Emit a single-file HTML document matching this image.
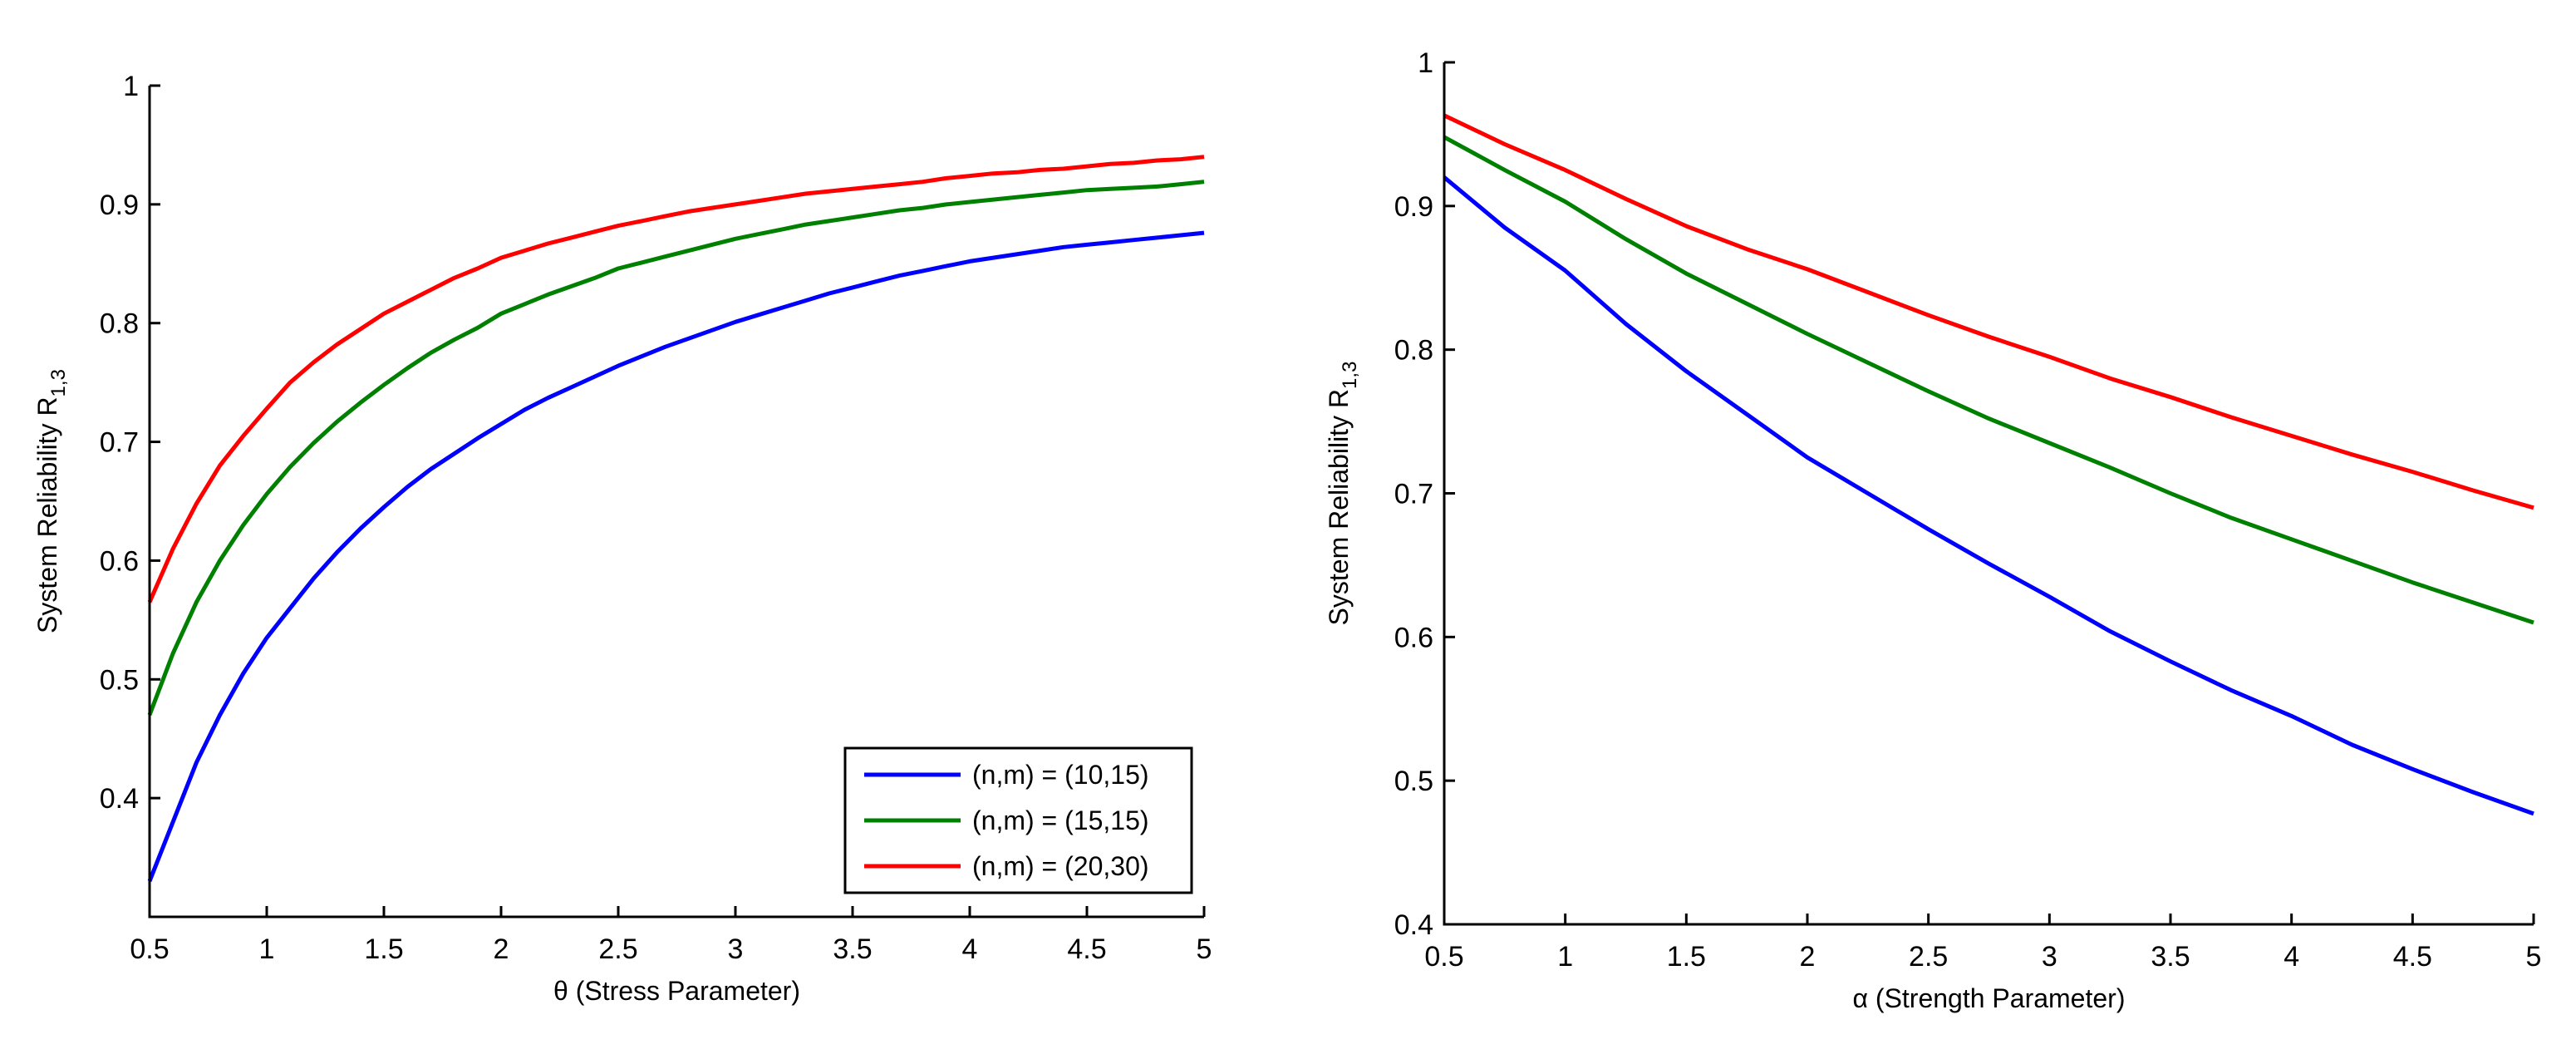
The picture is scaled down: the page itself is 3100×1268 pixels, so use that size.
<!DOCTYPE html>
<html><head><meta charset="utf-8"><style>
html,body{margin:0;padding:0;background:#fff;}
svg{display:block;font-family:"Liberation Sans",sans-serif;}
</style></head><body>
<svg id="fig" width="3100" height="1268" viewBox="0 0 3100 1268"></svg>
<script>
const leftX = [];
for (let i = 0; i <= 45; i++) leftX.push(0.5 + i * 0.1);
const leftBlue = [0.33,0.38,0.43,0.47,0.505,0.535,0.56,0.585,0.607,0.627,0.645,0.662,0.677,0.69,0.703,0.715,0.727,0.737,0.746,0.755,0.764,0.772,0.780,0.787,0.794,0.801,0.807,0.813,0.819,0.825,0.830,0.835,0.840,0.844,0.848,0.852,0.855,0.858,0.861,0.864,0.866,0.868,0.870,0.872,0.874,0.876];
const leftGreen = [0.47,0.522,0.565,0.6,0.63,0.656,0.679,0.699,0.717,0.733,0.748,0.762,0.775,0.786,0.796,0.808,0.816,0.824,0.831,0.838,0.846,0.851,0.856,0.861,0.866,0.871,0.875,0.879,0.883,0.886,0.889,0.892,0.895,0.897,0.9,0.902,0.904,0.906,0.908,0.910,0.912,0.913,0.914,0.915,0.917,0.919];
const leftRed = [0.565,0.61,0.648,0.68,0.705,0.728,0.75,0.767,0.782,0.795,0.808,0.818,0.828,0.838,0.846,0.855,0.861,0.867,0.872,0.877,0.882,0.886,0.890,0.894,0.897,0.900,0.903,0.906,0.909,0.911,0.913,0.915,0.917,0.919,0.922,0.924,0.926,0.927,0.929,0.930,0.932,0.934,0.935,0.937,0.938,0.940];
const rightX = [0.5,0.75,1,1.25,1.5,1.75,2,2.25,2.5,2.75,3,3.25,3.5,3.75,4,4.25,4.5,4.75,5];
const rightRed = [0.963,0.943,0.925,0.905,0.886,0.870,0.856,0.840,0.824,0.809,0.795,0.780,0.767,0.753,0.740,0.727,0.715,0.702,0.690];
const rightGreen = [0.948,0.925,0.903,0.877,0.853,0.832,0.811,0.791,0.771,0.752,0.735,0.718,0.700,0.683,0.668,0.653,0.638,0.624,0.610];
const rightBlue = [0.92,0.885,0.855,0.818,0.785,0.755,0.725,0.700,0.675,0.651,0.628,0.604,0.583,0.563,0.545,0.525,0.508,0.492,0.477];
const xTicks = [0.5,1,1.5,2,2.5,3,3.5,4,4.5,5];
const xTickLabels = ["0.5","1","1.5","2","2.5","3","3.5","4","4.5","5"];
const leftYTicks = [0.4,0.5,0.6,0.7,0.8,0.9,1];
const leftYTickLabels = ["0.4","0.5","0.6","0.7","0.8","0.9","1"];
const rightYTicks = [0.4,0.5,0.6,0.7,0.8,0.9,1];
const rightYTickLabels = ["0.4","0.5","0.6","0.7","0.8","0.9","1"];
const legendLabels = ["(n,m) = (10,15)","(n,m) = (15,15)","(n,m) = (20,30)"];
const colors = {blue:"#0000ff",green:"#008000",red:"#ff0000"};

const svg = document.getElementById('fig');
const NS = "http://www.w3.org/2000/svg";
function mk(tag, attrs, parent){const e=document.createElementNS(NS,tag);for(const k in attrs)e.setAttribute(k,attrs[k]);(parent||svg).appendChild(e);return e;}

function panel(cfg){
  const g = mk('g',{});
  
  
  const sx = v => cfg.x0 + (v - cfg.xmin)/(cfg.xmax-cfg.xmin)*(cfg.x1-cfg.x0);
  const sy = v => cfg.yb + (v - cfg.ymin)/(cfg.ymax-cfg.ymin)*(cfg.yt-cfg.yb);
  cfg.series.forEach(s=>{
    const d = s.vals.map((v,i)=>(i?'L':'M')+sx(cfg.xs[i]).toFixed(1)+' '+sy(v).toFixed(1)).join(' ');
    const p = mk('path',{d:d,fill:'none',stroke:s.color,'stroke-width':5,'stroke-linejoin':'round'},g);
    
    
  });
  const ax = mk('path',{d:`M${cfg.x0} ${cfg.yt} L${cfg.x0} ${cfg.yb} L${cfg.x1} ${cfg.yb}`,fill:'none',stroke:'#000','stroke-width':3},g);
  
  
  xTicks.forEach((t,i)=>{
    const X=sx(t);
    mk('line',{x1:X,y1:cfg.yb,x2:X,y2:cfg.yb-13,stroke:'#000','stroke-width':3},g);
    const tx=mk('text',{x:X,y:cfg.yb+50,'font-size':34,'text-anchor':'middle'},g);
    tx.textContent=xTickLabels[i];
    
    
  });
  cfg.yTicks.forEach((t,i)=>{
    const Y=sy(t);
    mk('line',{x1:cfg.x0,y1:Y,x2:cfg.x0+13,y2:Y,stroke:'#000','stroke-width':3},g);
    const tx=mk('text',{x:cfg.x0-13,y:Y+12,'font-size':34,'text-anchor':'end'},g);
    tx.textContent=cfg.yLabels[i];
    
    
  });
  const xl=mk('text',{x:(cfg.x0+cfg.x1)/2,y:cfg.yb+100,'font-size':32,'text-anchor':'middle'},g);
  xl.textContent=cfg.xTitle;
  
  
  const cy=(cfg.yt+cfg.yb)/2;
  const yl=mk('text',{x:0,y:0,'font-size':32,'text-anchor':'middle',transform:`translate(${cfg.ylx},${cy}) rotate(-90)`},g);
  yl.innerHTML='System Reliability R<tspan font-size="24" dy="10">1,3</tspan>';
  
  
}

panel({name:'left-chart',x0:180,x1:1449,yt:103,yb:1103,xmin:0.5,xmax:5,ymin:0.3,ymax:1,
  xs:leftX,yTicks:leftYTicks,yLabels:leftYTickLabels,xTitle:'θ (Stress Parameter)',ylx:68,
  series:[{name:'left-series-10-15',vals:leftBlue,color:colors.blue},{name:'left-series-15-15',vals:leftGreen,color:colors.green},{name:'left-series-20-30',vals:leftRed,color:colors.red}]});
panel({name:'right-chart',x0:1738,x1:3049,yt:75,yb:1112,xmin:0.5,xmax:5,ymin:0.4,ymax:1,
  xs:rightX,yTicks:rightYTicks,yLabels:rightYTickLabels,xTitle:'α (Strength Parameter)',ylx:1622,
  series:[{name:'right-series-10-15',vals:rightBlue,color:colors.blue},{name:'right-series-15-15',vals:rightGreen,color:colors.green},{name:'right-series-20-30',vals:rightRed,color:colors.red}]});

const lg = mk('g',{});


mk('rect',{x:1017,y:900,width:417,height:174,fill:'#fff',stroke:'#000','stroke-width':3},lg);
const lcols=[colors.blue,colors.green,colors.red];
legendLabels.forEach((lab,i)=>{
  const y=932+i*55;
  const ln=mk('line',{x1:1040,y1:y,x2:1156,y2:y,stroke:lcols[i],'stroke-width':5},lg);
  
  
  const t=mk('text',{x:1170,y:y+11,'font-size':32},lg);
  t.textContent=lab;
  
  
});
</script>
</body></html>
